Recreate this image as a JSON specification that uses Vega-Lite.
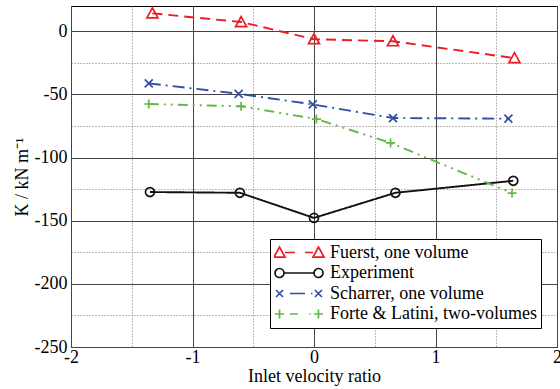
{
  "$schema": "https://vega.github.io/schema/vega-lite/v6.json",
  "width": 486,
  "height": 341,
  "autosize": "none",
  "padding": {"left": 71, "top": 6, "right": 3, "bottom": 42},
  "background": "white",
  "config": {
    "view": {"stroke": "black", "strokeWidth": 1},
    "font": "Liberation Serif, Times New Roman, serif"
  },
  "data": {
    "values": [
      {"series": "Fuerst, one volume", "x": -1.33, "y": 14.2},
      {"series": "Fuerst, one volume", "x": -0.60, "y": 7.3},
      {"series": "Fuerst, one volume", "x": 0.0, "y": -6.3},
      {"series": "Fuerst, one volume", "x": 0.65, "y": -7.9},
      {"series": "Fuerst, one volume", "x": 1.65, "y": -21.3},
      {"series": "Experiment", "x": -1.35, "y": -127.3},
      {"series": "Experiment", "x": -0.61, "y": -127.9},
      {"series": "Experiment", "x": 0.0, "y": -147.8},
      {"series": "Experiment", "x": 0.67, "y": -127.9},
      {"series": "Experiment", "x": 1.64, "y": -118.4},
      {"series": "Scharrer, one volume", "x": -1.36, "y": -41.3},
      {"series": "Scharrer, one volume", "x": -0.62, "y": -49.5},
      {"series": "Scharrer, one volume", "x": -0.01, "y": -57.9},
      {"series": "Scharrer, one volume", "x": 0.65, "y": -68.7},
      {"series": "Scharrer, one volume", "x": 1.60, "y": -69.2},
      {"series": "Forte & Latini, two-volumes", "x": -1.36, "y": -57.6},
      {"series": "Forte & Latini, two-volumes", "x": -0.60, "y": -59.4},
      {"series": "Forte & Latini, two-volumes", "x": 0.02, "y": -69.5},
      {"series": "Forte & Latini, two-volumes", "x": 0.63, "y": -88.4},
      {"series": "Forte & Latini, two-volumes", "x": 1.63, "y": -128.1}
    ]
  },
  "encoding": {
    "x": {
      "field": "x",
      "type": "quantitative",
      "scale": {"domain": [-2, 2], "nice": false, "zero": false},
      "axis": {
        "values": [-2, -1.5, -1, -0.5, 0, 0.5, 1, 1.5, 2],
        "labelExpr": "datum.value % 1 === 0 ? '' + datum.value : ''",
        "labelOverlap": false,
        "labelFont": "Liberation Serif, Times New Roman, serif",
        "labelFontSize": 18,
        "labelColor": "black",
        "labelPadding": 1,
        "labelFlush": false,
        "domain": false,
        "ticks": false,
        "grid": true,
        "gridColor": {"condition": {"test": "datum.value % 1 !== 0", "value": "#777777"}, "value": "#444444"},
        "gridDash": {"condition": {"test": "datum.value % 1 !== 0", "value": [1, 2]}, "value": []},
        "gridWidth": 1,
        "gridOpacity": 1,
        "title": "Inlet velocity ratio",
        "titleFont": "Liberation Serif, Times New Roman, serif",
        "titleFontSize": 18,
        "titleFontWeight": "normal",
        "titleColor": "black",
        "titlePadding": 1
      }
    },
    "y": {
      "field": "y",
      "type": "quantitative",
      "scale": {"domain": [-250, 20], "nice": false, "zero": false},
      "axis": {
        "values": [-250, -225, -200, -175, -150, -125, -100, -75, -50, -25, 0],
        "labelExpr": "datum.value % 50 === 0 ? '' + datum.value : ''",
        "labelOverlap": false,
        "labelFont": "Liberation Serif, Times New Roman, serif",
        "labelFontSize": 18,
        "labelColor": "black",
        "labelPadding": 4,
        "labelFlush": false,
        "domain": false,
        "ticks": false,
        "grid": true,
        "gridColor": {"condition": {"test": "datum.value % 50 !== 0", "value": "#777777"}, "value": "#444444"},
        "gridDash": {"condition": {"test": "datum.value % 50 !== 0", "value": [1, 2]}, "value": []},
        "gridWidth": 1,
        "gridOpacity": 1,
        "title": "K / kN m⁻¹",
        "titleFont": "Liberation Serif, Times New Roman, serif",
        "titleFontSize": 18,
        "titleFontWeight": "normal",
        "titleColor": "black",
        "titlePadding": 3
      }
    }
  },
  "layer": [
    {
      "mark": {"type": "line", "strokeWidth": 1.9},
      "encoding": {
        "color": {
          "field": "series",
          "type": "nominal",
          "scale": {
            "domain": ["Fuerst, one volume", "Experiment", "Scharrer, one volume", "Forte & Latini, two-volumes"],
            "range": ["#ec1c24", "#111111", "#2f4fa3", "#62b846"]
          },
          "legend": null
        },
        "strokeDash": {
          "field": "series",
          "type": "nominal",
          "scale": {
            "domain": ["Fuerst, one volume", "Experiment", "Scharrer, one volume", "Forte & Latini, two-volumes"],
            "range": [[10, 6], [1, 0], [12, 5, 2, 5], [10, 5, 2, 5, 2, 5]]
          },
          "legend": null
        }
      }
    },
    {
      "mark": {"type": "point", "filled": false, "size": 100, "strokeWidth": 1.7, "opacity": 1},
      "encoding": {
        "color": {
          "field": "series",
          "type": "nominal",
          "scale": {
            "domain": ["Fuerst, one volume", "Experiment", "Scharrer, one volume", "Forte & Latini, two-volumes"],
            "range": ["#ec1c24", "#111111", "#2f4fa3", "#62b846"]
          },
          "legend": null
        },
        "shape": {
          "field": "series",
          "type": "nominal",
          "scale": {
            "domain": ["Fuerst, one volume", "Experiment", "Scharrer, one volume", "Forte & Latini, two-volumes"],
            "range": [
              "M-1.1,0.9L1.1,0.9L0,-1.1Z",
              "M-0.9,0A0.9,0.9 0 1,1 0.9,0A0.9,0.9 0 1,1 -0.9,0Z",
              "M-0.8,-0.8L0.8,0.8M-0.8,0.8L0.8,-0.8",
              "M-0.9,0L0.9,0M0,-0.9L0,0.9"
            ]
          },
          "legend": null
        }
      }
    },
    {
      "transform": [{"filter": "datum.x > 100"}],
      "mark": {"type": "point", "filled": false, "strokeWidth": 1.7, "opacity": 1},
      "encoding": {
        "color": {
          "field": "series",
          "type": "nominal",
          "scale": {
            "domain": ["Fuerst, one volume", "Experiment", "Scharrer, one volume", "Forte & Latini, two-volumes"],
            "range": ["#ec1c24", "#111111", "#2f4fa3", "#62b846"]
          },
          "legend": {
            "orient": "none",
            "legendX": 199,
            "legendY": 233,
            "title": null,
            "strokeColor": "black",
            "fillColor": "white",
            "padding": 4,
            "labelFont": "Liberation Serif, Times New Roman, serif",
            "labelFontSize": 18,
            "labelColor": "black",
            "labelOffset": 6,
            "labelLimit": 400,
            "labelExpr": "datum.label + '\u00a0\u00a0\u00a0'",
            "symbolSize": 2304,
            "symbolStrokeWidth": 1.7,
            "clipHeight": 19,
            "rowPadding": 1.5
          }
        },
        "shape": {
          "field": "series",
          "type": "nominal",
          "scale": {
            "domain": ["Fuerst, one volume", "Experiment", "Scharrer, one volume", "Forte & Latini, two-volumes"],
            "range": [
              "M-1.042,0.19L-0.583,0.19L-0.8125,-0.23Z M-0.583,0L-0.167,0 M0.25,0L0.583,0 M0.583,0.19L1.042,0.19L0.8125,-0.23Z",
              "M-1,0A0.1875,0.1875 0 1,1 -0.625,0A0.1875,0.1875 0 1,1 -1,0Z M-0.625,0L0.625,0 M0.625,0A0.1875,0.1875 0 1,1 1,0A0.1875,0.1875 0 1,1 0.625,0Z",
              "M-0.956,-0.146L-0.664,0.146M-0.956,0.146L-0.664,-0.146 M-0.375,0L0.25,0 M0.5,0L0.56,0 M0.664,-0.146L0.956,0.146M0.664,0.146L0.956,-0.146",
              "M-1,0L-0.62,0M-0.81,-0.19L-0.81,0.19 M-0.375,0L-0.04,0 M0.43,0L0.49,0 M0.62,0L1,0M0.81,-0.19L0.81,0.19"
            ]
          },
          "legend": {
            "orient": "none",
            "legendX": 199,
            "legendY": 233,
            "title": null,
            "strokeColor": "black",
            "fillColor": "white",
            "padding": 4,
            "labelFont": "Liberation Serif, Times New Roman, serif",
            "labelFontSize": 18,
            "labelColor": "black",
            "labelOffset": 6,
            "labelLimit": 400,
            "labelExpr": "datum.label + '\u00a0\u00a0\u00a0'",
            "symbolSize": 2304,
            "symbolStrokeWidth": 1.7,
            "clipHeight": 19,
            "rowPadding": 1.5
          }
        }
      }
    }
  ],
  "resolve": {"scale": {"shape": "independent", "color": "independent", "strokeDash": "independent"}}
}
